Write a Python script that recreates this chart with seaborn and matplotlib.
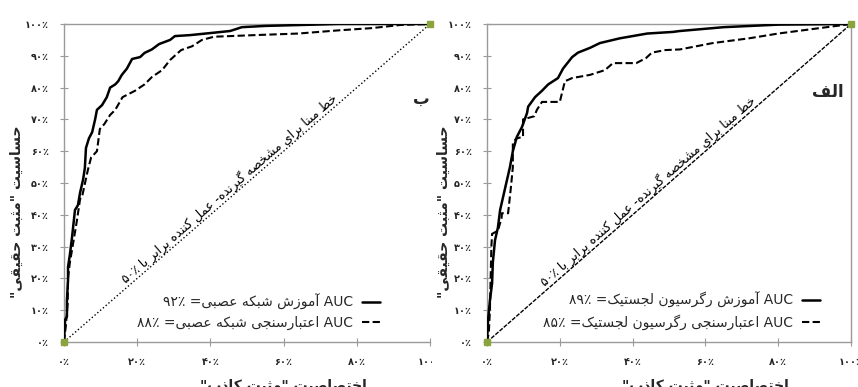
import matplotlib
matplotlib.use("Agg")
import matplotlib.pyplot as plt
import seaborn as sns
from matplotlib.transforms import Bbox, TransformedBbox

# ROC curves (false positive %, true positive %)
nn_train_fpr = [0, 0.3, 0.8, 0.8, 1.1, 1.1, 1.6, 2.2, 3, 3.8, 4.4, 5.2, 5.7, 6, 6.8, 7.7, 8.5, 9,
                10.4, 11.7, 12.6, 14, 14.8, 15.8, 17.2, 18.6, 20.8, 22, 24, 26, 29, 30.3, 34.4,
                40.4, 45.4, 48.6, 55, 65, 75, 100]
nn_train_tpr = [0, 7, 8, 13, 19.5, 23.6, 27.4, 33, 41.5, 43, 47, 51, 54.7, 61, 64, 66, 70, 73,
                74.5, 77, 80, 81, 82, 84, 86, 89, 89.6, 90.9, 92, 93.7, 95, 96.2, 96.5,
                97.2, 97.8, 99, 99.4, 99.7, 100, 100]

nn_valid_fpr = [0, 0.5, 1, 1.1, 1.6, 2.2, 3.5, 4.4, 4.9, 6.5, 7.4, 9, 9.8, 11, 12.6, 14, 16,
                19.4, 22, 24, 26.8, 29, 32, 35, 37.7, 41, 52, 64, 75, 84, 92, 100]
nn_valid_tpr = [0, 5, 12, 20, 25, 29, 38, 45, 45.5, 54, 58, 60, 67, 68.5, 71.4, 73, 77,
                79, 81, 83.3, 85.5, 88.7, 91.8, 93, 95, 96, 96.5, 97, 98, 98.7, 99.7, 100]

lr_train_fpr = [0, 0.3, 0.8, 1.4, 1.6, 2.2, 3, 3.6, 4.4, 5.5, 6.3, 7.1, 8.2, 9.6, 11, 11.3,
                13.2, 15.1, 16.8, 19.5, 20.9, 23.4, 25, 28.3, 31, 36.5, 44, 51, 53, 65, 80, 100]
lr_train_tpr = [0, 7, 13, 18.5, 25, 32, 36, 41.5, 45.5, 51, 55, 60, 64.5, 67.6, 72, 74,
                77, 79, 81, 83, 86, 89.6, 91, 92.5, 94, 95.5, 97, 97.5, 97.8, 99, 99.8, 100]

lr_valid_fpr = [0, 0.5, 0.8, 1, 1.2, 1.4, 3, 4, 4.1, 5.8, 6.6, 7.1, 7.1, 8, 9.9, 9.9, 13,
                13.7, 15.1, 20, 21.4, 23.4, 28.3, 32.4, 34.6, 41, 43.7, 45.3, 49, 53, 62, 72,
                80, 90, 100]
lr_valid_tpr = [0, 3, 10, 20, 30, 34, 35, 39, 40.5, 40.5, 49, 55, 62.5, 64, 64.5, 70, 71,
                73, 75.5, 75.5, 82, 83, 84, 85.5, 87.7, 87.7, 89.3, 91, 91.8, 92, 94, 95.5,
                97, 98.5, 100]

x_ticks = [0, 20, 40, 60, 80, 100]
y_ticks = [0, 10, 20, 30, 40, 50, 60, 70, 80, 90, 100]

auc_labels = {
    "nn_train": ("آموزش شبکه عصبی=", "۹۲"),
    "nn_valid": ("اعتبارسنجی شبکه عصبی=", "۸۸"),
    "lr_train": ("آموزش رگرسیون لجستیک=", "۸۹"),
    "lr_valid": ("اعتبارسنجی رگرسیون لجستیک=", "۸۵"),
}
y_title = 'حساسیت "مثبت حقیقی"'
x_title = 'اختصاصیت "مثبت کاذب"'
base_text = "خط مبنا برای مشخصه گیرنده- عمل کننده برابر با"

# --- minimal Persian shaping (matplotlib has no bidi / joining) ---
FORMS = {
    'ا': ('\uFE8D', '\uFE8E'), 'آ': ('\uFE81', '\uFE82'),
    'د': ('\uFEA9', '\uFEAA'), 'ذ': ('\uFEAB', '\uFEAC'),
    'ر': ('\uFEAD', '\uFEAE'), 'ز': ('\uFEAF', '\uFEB0'),
    'و': ('\uFEED', '\uFEEE'),
    'ب': ('\uFE8F', '\uFE90', '\uFE91', '\uFE92'),
    'ت': ('\uFE95', '\uFE96', '\uFE97', '\uFE98'),
    'ث': ('\uFE99', '\uFE9A', '\uFE9B', '\uFE9C'),
    'ج': ('\uFE9D', '\uFE9E', '\uFE9F', '\uFEA0'),
    'ح': ('\uFEA1', '\uFEA2', '\uFEA3', '\uFEA4'),
    'خ': ('\uFEA5', '\uFEA6', '\uFEA7', '\uFEA8'),
    'س': ('\uFEB1', '\uFEB2', '\uFEB3', '\uFEB4'),
    'ش': ('\uFEB5', '\uFEB6', '\uFEB7', '\uFEB8'),
    'ص': ('\uFEB9', '\uFEBA', '\uFEBB', '\uFEBC'),
    'ط': ('\uFEC1', '\uFEC2', '\uFEC3', '\uFEC4'),
    'ع': ('\uFEC9', '\uFECA', '\uFECB', '\uFECC'),
    'ف': ('\uFED1', '\uFED2', '\uFED3', '\uFED4'),
    'ق': ('\uFED5', '\uFED6', '\uFED7', '\uFED8'),
    'ل': ('\uFEDD', '\uFEDE', '\uFEDF', '\uFEE0'),
    'م': ('\uFEE1', '\uFEE2', '\uFEE3', '\uFEE4'),
    'ن': ('\uFEE5', '\uFEE6', '\uFEE7', '\uFEE8'),
    'ه': ('\uFEE9', '\uFEEA', '\uFEEB', '\uFEEC'),
    'ی': ('\uFBFC', '\uFBFD', '\uFBFE', '\uFBFF'),
    'ک': ('\uFB8E', '\uFB8F', '\uFB90', '\uFB91'),
    'گ': ('\uFB92', '\uFB93', '\uFB94', '\uFB95'),
}


def shape(s):
    out = []
    for i, c in enumerate(s):
        if c not in FORMS:
            out.append(c)
            continue
        prev = s[i - 1] if i > 0 else ''
        nxt = s[i + 1] if i + 1 < len(s) else ''
        f = FORMS[c]
        jp = prev in FORMS and len(FORMS[prev]) == 4
        jn = len(f) == 4 and nxt in FORMS
        if jp and jn:
            out.append(f[3])
        elif jp:
            out.append(f[1])
        elif jn:
            out.append(f[2])
        else:
            out.append(f[0])
    return ''.join(out)


def fa(s):
    return shape(s)[::-1]


def fa_num(v):
    return str(v).translate(str.maketrans("0123456789", "۰۱۲۳۴۵۶۷۸۹"))


def pct(v):
    return fa_num(v) + "٪"


def legend_text(key):
    words, num = auc_labels[key]
    return num + "٪ " + fa(words) + " AUC"


sns.set_theme(style="white")
plt.rcParams['font.family'] = ['DejaVu Sans']

fig = plt.figure(figsize=(8.58, 3.87), dpi=100)
ax_l = fig.add_axes([64 / 858, 45 / 387, 366 / 858, 318 / 387])
ax_r = fig.add_axes([487 / 858, 45 / 387, 364 / 858, 318 / 387])

grey = "#9a9a9a"
panels = [
    (ax_l, "nn_train", "nn_valid", nn_train_fpr, nn_train_tpr, nn_valid_fpr, nn_valid_tpr,
     "ب", (97.5, 76.5), ":", 46.5, 0.878),
    (ax_r, "lr_train", "lr_valid", lr_train_fpr, lr_train_tpr, lr_valid_fpr, lr_valid_tpr,
     "الف", (93.7, 78.6), (0, (3, 1)), 45.6, 0.929),
]

for (ax, k1, k2, fx1, fy1, fx2, fy2, tag, tag_xy, diag_ls, diag_pos, leg_x) in panels:
    ax.plot([0, 100], [0, 100], color="black", lw=1.0, ls=diag_ls, zorder=2)
    sns.lineplot(x=fx1, y=fy1, ax=ax, sort=False, estimator=None, color="black",
                 lw=1.8, label=legend_text(k1), zorder=3)
    sns.lineplot(x=fx2, y=fy2, ax=ax, sort=False, estimator=None, color="black",
                 lw=1.5, linestyle=(0, (3.5, 1.6)), label=legend_text(k2), zorder=3)
    ax.plot([0, 100], [0, 100], ls="none", marker="s", ms=5, color="#8aa33c",
            clip_on=False, zorder=4)

    ax.set_xlim(0, 100)
    ax.set_ylim(0, 100)
    ax.set_xticks(x_ticks)
    ax.set_xticklabels([pct(v) for v in x_ticks], fontsize=7, fontweight="bold")
    ax.set_yticks(y_ticks)
    ax.set_yticklabels([pct(v) for v in y_ticks], fontsize=7, fontweight="bold")
    ax.tick_params(axis="both", direction="inout", length=6, color=grey, width=0.8,
                   left=True, bottom=True, pad=8)
    for side in ["left", "bottom", "top", "right"]:
        ax.spines[side].set_color(grey)
        ax.spines[side].set_linewidth(1.0)

    ax.set_ylabel(fa(y_title), fontsize=10, fontweight="bold")
    ax.set_xlabel(fa(x_title), fontsize=10, fontweight="bold")
    ax.xaxis.set_label_coords(0.6, -0.115)

    ax.text(diag_pos, diag_pos, pct(50) + " " + fa(base_text), fontsize=9,
            rotation=45, transform_rotates_text=True, rotation_mode="anchor",
            ha="center", va="bottom", color="black")
    ax.text(tag_xy[0], tag_xy[1], fa(tag), fontsize=12, fontweight="bold",
            ha="center", va="center")

    ax.legend(loc="lower right", bbox_to_anchor=(leg_x, 0.02), frameon=False,
              markerfirst=False, fontsize=10, handlelength=1.3, handletextpad=0.6,
              labelspacing=0.45, borderaxespad=0)

ax_l.spines["right"].set_visible(False)
ax_l.yaxis.set_label_coords(-0.11, 0.41)
ax_r.yaxis.set_label_coords(-0.10, 0.41)

# left panel is cut off where the right panel begins
clip = TransformedBbox(Bbox([[0, 0], [432 / 858, 1]]), fig.transFigure)
for lab in ax_l.get_xticklabels():
    lab.set_clip_on(True)
    lab.set_clip_box(clip)

fig.savefig("out.png", dpi=100)
